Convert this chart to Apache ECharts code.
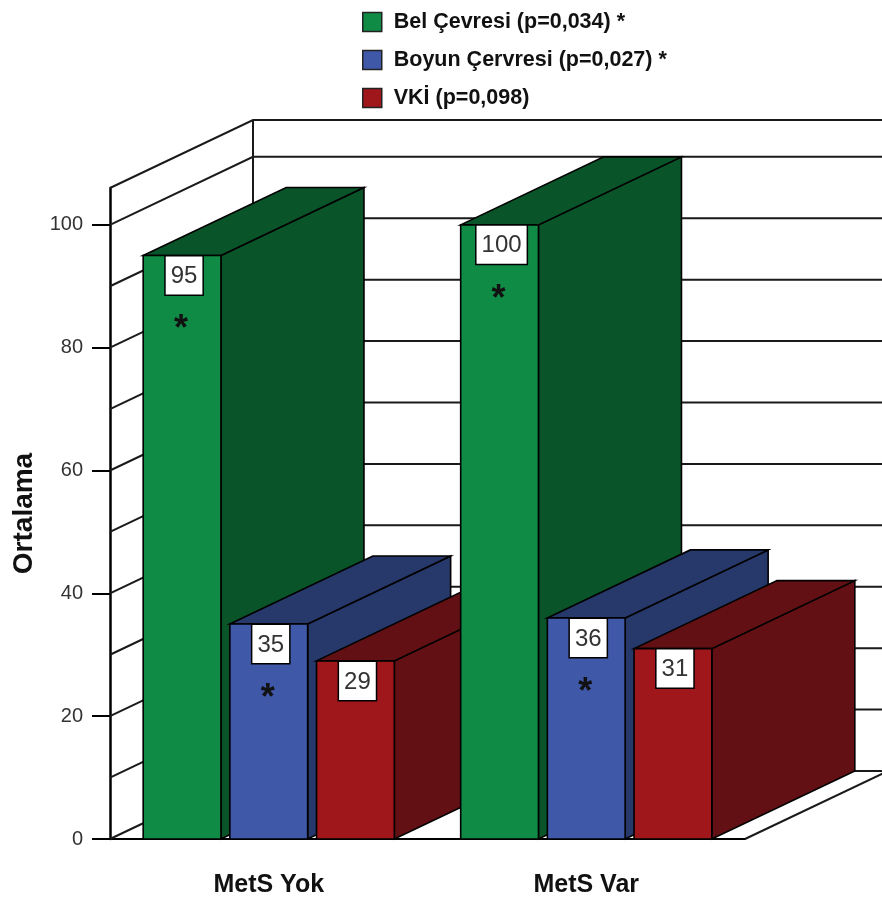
<!DOCTYPE html>
<html>
<head>
<meta charset="utf-8">
<script src="https://cdn.jsdelivr.net/npm/echarts@6/dist/echarts.min.js"></script>
<style>
  html, body { margin: 0; padding: 0; background: #ffffff; }
  #chart { width: 882px; height: 900px; }
</style>
</head>
<body>
<div id="chart"></div>
<script>
// Group means by metabolic syndrome status
const categories = ['MetS Yok', 'MetS Var'];
const measureNames = ['Bel Çevresi', 'Boyun Çervresi', 'VKİ'];
const pValues = [0.034, 0.027, 0.098];
const belCevresi = [95, 100];
const boyunCevresi = [35, 36];
const vki = [29, 31];
const yTickValues = [0, 20, 40, 60, 80, 100];
const gridLevels = [0, 10, 20, 30, 40, 50, 60, 70, 80, 90, 100];

const measureValues = [belCevresi, boyunCevresi, vki];
const frontColors = ['#0f8b45', '#3f58a8', '#9f171b'];
const sideColors = ['#0a5429', '#27386b', '#621013'];

// oblique projection offset for the depth of the box
const DX = 143, DY = -68;
const LINE = '#1a1a1a';

function legendName(i) {
  const p = pValues[i].toFixed(3).replace('.', ',');
  return measureNames[i] + ' (p=' + p + ')' + (pValues[i] < 0.05 ? ' *' : '');
}

// back wall, left wall and floor of the 3D frame
function renderFrame(params, api) {
  const cs = params.coordSys;
  const x0 = cs.x, x1 = cs.x + cs.width;
  const yTop = cs.y, yBase = cs.y + cs.height;
  const children = [];
  const lineStyle = { stroke: LINE, lineWidth: 2, fill: null };
  gridLevels.forEach(function (v) {
    const y = api.coord([0, v])[1];
    children.push({
      type: 'polyline',
      shape: { points: [[x0, y], [x0 + DX, y + DY], [x1 + DX, y + DY]] },
      style: lineStyle
    });
  });
  children.push({
    type: 'polyline',
    shape: { points: [[x0, yTop], [x0 + DX, yTop + DY], [x1 + DX, yTop + DY]] },
    style: lineStyle
  });
  children.push({
    type: 'line',
    shape: { x1: x0 + DX, y1: yBase + DY, x2: x0 + DX, y2: yTop + DY },
    style: lineStyle
  });
  children.push({
    type: 'line',
    shape: { x1: x1, y1: yBase, x2: x1 + DX, y2: yBase + DY },
    style: lineStyle
  });
  return { type: 'group', children: children };
}

function barRenderer(si) {
  return function (params, api) {
    const cat = api.value(0);
    const val = api.value(1);
    const top = api.coord([cat, val]);
    const base = api.coord([cat, 0]);
    const bw = api.size([1, 0])[0];
    const w = bw * 0.245, gap = bw * 0.028;
    const groupW = 3 * w + 2 * gap;
    const xl = top[0] - groupW / 2 + si * (w + gap);
    const xr = xl + w;
    const yt = top[1], yb = base[1];
    const order = (cat * 3 + si) * 10;
    const edge = { stroke: '#000', lineWidth: 1.6 };
    const children = [
      {
        type: 'polygon', z2: order + 1,
        shape: { points: [[xr, yt], [xr + DX, yt + DY], [xr + DX, yb + DY], [xr, yb]] },
        style: Object.assign({ fill: sideColors[si] }, edge)
      },
      {
        type: 'polygon', z2: order + 2,
        shape: { points: [[xl, yt], [xr, yt], [xr + DX, yt + DY], [xl + DX, yt + DY]] },
        style: Object.assign({ fill: sideColors[si] }, edge)
      },
      {
        type: 'rect', z2: order + 3,
        shape: { x: xl, y: yt, width: w, height: yb - yt },
        style: Object.assign({ fill: frontColors[si] }, edge)
      },
      {
        type: 'text', z2: order + 4,
        x: (xl + xr) / 2 + 2, y: yt + 1,
        style: {
          text: String(val),
          fontFamily: 'Liberation Sans', fontSize: 24,
          fill: '#333333',
          align: 'center', verticalAlign: 'top',
          backgroundColor: '#ffffff', borderColor: '#000', borderWidth: 1.5,
          padding: [8, 5, 6, 5]
        }
      }
    ];
    if (pValues[si] < 0.05) {
      children.push({
        type: 'text', z2: order + 5,
        x: (xl + xr) / 2 - 1, y: yt + 75,
        style: {
          text: '*',
          fontFamily: 'Liberation Sans', fontWeight: 'bold', fontSize: 36,
          fill: '#111111',
          align: 'center', verticalAlign: 'middle'
        }
      });
    }
    return { type: 'group', children: children };
  };
}

const series = [{
  type: 'custom',
  name: 'frame',
  z: 1,
  silent: true,
  renderItem: renderFrame,
  data: [[0, 0]]
}];
measureValues.forEach(function (vals, si) {
  series.push({
    type: 'custom',
    name: legendName(si),
    z: 2,
    itemStyle: { color: frontColors[si] },
    renderItem: barRenderer(si),
    encode: { x: 0, y: 1 },
    data: vals.map(function (v, c) { return [c, v]; })
  });
});

const chart = echarts.init(document.getElementById('chart'), null, { renderer: 'canvas' });
chart.setOption({
  backgroundColor: '#ffffff',
  animation: false,
  legend: {
    data: measureValues.map(function (_, i) { return legendName(i); }),
    orient: 'vertical',
    left: 362, top: 11,
    padding: 0,
    itemWidth: 19, itemHeight: 19, itemGap: 16,
    icon: 'rect',
    itemStyle: { borderColor: '#222', borderWidth: 1.5 },
    textStyle: { fontFamily: 'Liberation Sans', fontWeight: 'bold', fontSize: 21.5, color: '#111', padding: [0, 0, 0, 7] }
  },
  grid: { left: 110, right: 137, top: 188, bottom: 61, containLabel: false },
  xAxis: {
    type: 'category',
    data: categories,
    axisLine: { lineStyle: { color: '#000', width: 2 } },
    axisTick: { alignWithLabel: true, length: 22, lineStyle: { color: '#000', width: 2 } },
    axisLabel: { margin: 34, fontFamily: 'Liberation Sans', fontWeight: 'bold', fontSize: 25, color: '#111' },
    splitLine: { show: false }
  },
  yAxis: {
    type: 'value',
    min: 0, max: 106,
    name: 'Ortalama',
    nameLocation: 'middle',
    nameRotate: 90,
    nameGap: 66,
    nameTextStyle: { fontFamily: 'Liberation Sans', fontWeight: 'bold', fontSize: 28, color: '#111' },
    axisLine: { show: true, lineStyle: { color: '#000', width: 2.5 } },
    axisTick: { show: true, length: 18, customValues: yTickValues, lineStyle: { color: '#000', width: 2 } },
    axisLabel: { margin: 27, customValues: yTickValues, fontFamily: 'Liberation Sans', fontSize: 20, color: '#333' },
    splitLine: { show: false }
  },
  series: series
});
</script>
</body>
</html>
